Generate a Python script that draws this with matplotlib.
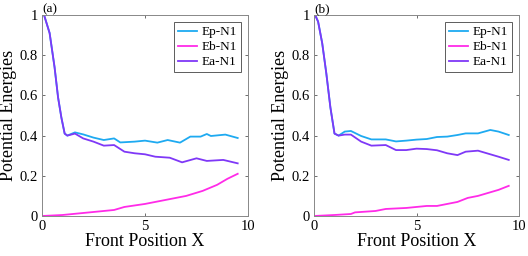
import matplotlib
matplotlib.use("Agg")
import matplotlib.pyplot as plt

plt.rcParams['font.family'] = ['Liberation Serif', 'DejaVu Serif']
plt.rcParams['mathtext.fontset'] = 'stix'

# panel (a)
xa_ep = [0, 0.1, 0.37, 0.61, 0.78, 0.94, 1.1, 1.23, 1.6, 2.0, 2.5, 3.0, 3.5, 3.8, 4.5, 5.0,
         5.6, 6.1, 6.7, 7.2, 7.7, 8.0, 8.2, 8.9, 9.5]
ya_ep = [1.0, 1.0, 0.91, 0.74, 0.59, 0.49, 0.41, 0.40, 0.416, 0.406, 0.39, 0.378, 0.386, 0.366,
         0.37, 0.375, 0.365, 0.378, 0.365, 0.395, 0.395, 0.408, 0.398, 0.405, 0.388]
xa_ea = [0, 0.1, 0.37, 0.61, 0.78, 0.94, 1.1, 1.23, 1.6, 2.0, 2.5, 3.0, 3.5, 4.0, 4.5, 5.0,
         5.5, 6.2, 6.8, 7.5, 8.0, 8.8, 9.5]
ya_ea = [1.0, 1.0, 0.91, 0.74, 0.59, 0.49, 0.41, 0.40, 0.41, 0.386, 0.37, 0.35, 0.353, 0.32,
         0.312, 0.307, 0.295, 0.29, 0.267, 0.287, 0.274, 0.279, 0.262]
xa_eb = [0, 1, 2, 3, 3.5, 4, 5, 6, 7, 7.8, 8.5, 9, 9.5]
ya_eb = [0, 0.005, 0.015, 0.025, 0.03, 0.045, 0.06, 0.08, 0.10, 0.125, 0.155, 0.185, 0.21]

# panel (b)
xb_ep = [0, 0.1, 0.2, 0.4, 0.6, 0.8, 1.0, 1.2, 1.5, 1.8, 2.3, 2.8, 3.5, 4.0, 4.5, 5.0, 5.5,
         6.0, 6.5, 7.0, 7.4, 8.0, 8.6, 9.0, 9.5]
yb_ep = [1.0, 0.99, 0.967, 0.86, 0.71, 0.54, 0.41, 0.40, 0.42, 0.423, 0.398, 0.381, 0.381,
         0.371, 0.375, 0.38, 0.383, 0.393, 0.395, 0.403, 0.411, 0.411, 0.428, 0.42, 0.403]
xb_ea = [0, 0.1, 0.2, 0.4, 0.6, 0.8, 1.0, 1.2, 1.5, 1.8, 2.3, 2.8, 3.5, 4.0, 4.5, 5.0, 5.5,
         6.0, 6.5, 7.0, 7.4, 8.0, 8.5, 9.0, 9.5]
yb_ea = [1.0, 0.99, 0.967, 0.86, 0.71, 0.54, 0.41, 0.40, 0.405, 0.405, 0.37, 0.35, 0.353,
         0.328, 0.328, 0.335, 0.333, 0.327, 0.312, 0.303, 0.32, 0.325, 0.31, 0.295, 0.279]
xb_eb = [0, 1, 1.8, 2, 3, 3.5, 4.5, 5.5, 6, 7, 7.5, 8, 8.5, 9, 9.5]
yb_eb = [0, 0.005, 0.01, 0.018, 0.025, 0.035, 0.04, 0.05, 0.05, 0.07, 0.09, 0.1, 0.115, 0.13, 0.15]

labels = ['Ep-N1', 'Eb-N1', 'Ea-N1']
colors = ['#1EAAF1', '#FF2BE8', '#7F38F7']

panels = [
    ('(a)', [(xa_ep, ya_ep), (xa_eb, ya_eb), (xa_ea, ya_ea)]),
    ('(b)', [(xb_ep, yb_ep), (xb_eb, yb_eb), (xb_ea, yb_ea)]),
]
boxes = [[42/528, 40/256, 206/528, 201/256], [314/528, 40/256, 205/528, 201/256]]

fig = plt.figure(figsize=(5.28, 2.56), dpi=100)
for (tag, series), box in zip(panels, boxes):
    ax = fig.add_axes(box)
    for (x, y), lab, c in zip(series, labels, colors):
        ax.plot(x, y, color=c, lw=1.3, label=lab)
    ax.set_xlim(0, 10)
    ax.set_ylim(0, 1)
    ax.set_xticks([0, 5, 10])
    ax.set_yticks([0, 0.2, 0.4, 0.6, 0.8, 1])
    ax.set_yticklabels(['0', '0.2', '0.4', '0.6', '0.8', '1'])
    ax.tick_params(direction='in', length=2, width=0.6, labelsize=10.5, color='#555555',
                   top=True, right=True, pad=3)
    for s in ax.spines.values():
        s.set_color('#888888')
        s.set_linewidth(0.7)
    ax.set_xlabel('Front Position X', fontsize=13, labelpad=0)
    ax.set_ylabel('Potential Energies', fontsize=13, labelpad=2)
    ax.text(0.0, 1.0, tag, transform=ax.transAxes, fontsize=9.5, va='bottom', ha='left')
    leg = ax.legend(loc='upper right', fontsize=9.5, frameon=True, fancybox=False,
                    handlelength=1.4, handletextpad=0.35, labelspacing=0.2,
                    borderpad=0.3, borderaxespad=0.55)
    leg.get_frame().set_edgecolor('#333333')
    leg.get_frame().set_linewidth(0.7)

fig.savefig('out.png', dpi=100)
